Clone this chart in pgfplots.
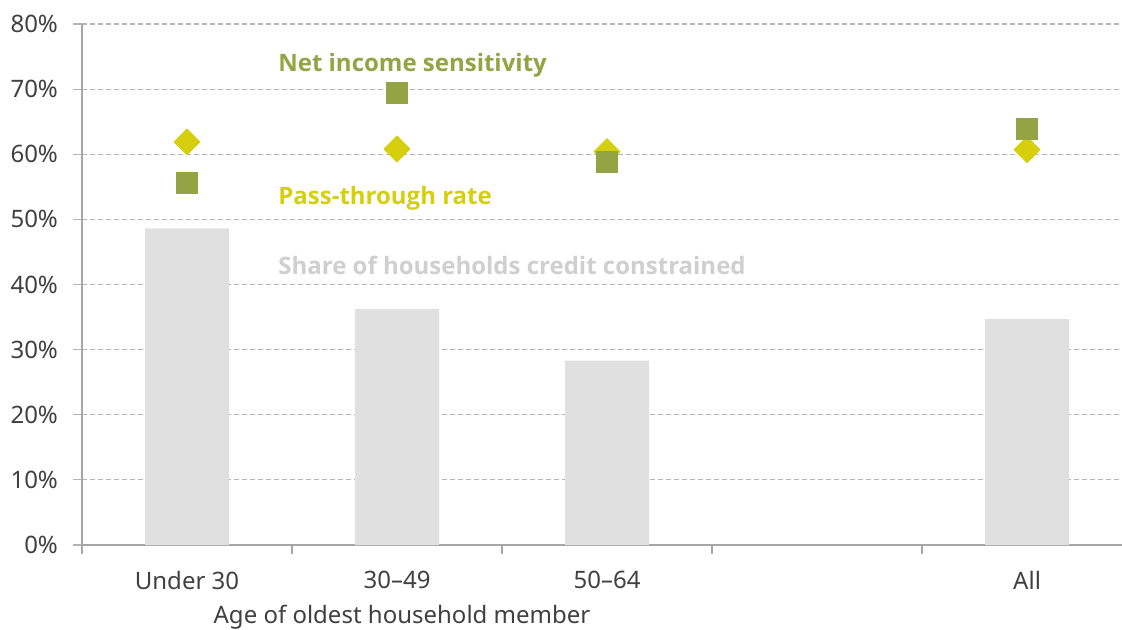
\documentclass[border=0pt]{standalone}
\usepackage{pgfplots}
\pgfplotsset{compat=1.18}
\usepackage{fontspec}
\setmainfont{Noto Sans}
\newfontfamily\lblfont{Open Sans}
\definecolor{barg}{HTML}{E0E0E0}
\definecolor{sqg}{HTML}{94A444}
\definecolor{dmy}{HTML}{D5CF0E}
\definecolor{lblg}{HTML}{CFCFCF}
\definecolor{txt}{HTML}{404040}
\definecolor{axg}{HTML}{A6A6A6}
\definecolor{grd}{HTML}{B3B3B3}
\begin{document}
\begin{tikzpicture}
\begin{axis}[name=ax,
  scale only axis, width=520pt, height=260.5pt,
  xmin=-0.5, xmax=4.452, ymin=0, ymax=80,
  axis lines=left, axis line style={-, axg, line width=0.8pt},
  font=\fontsize{12}{14}\selectfont,
  /pgf/number format/assume math mode=true,
  ytick={0,10,...,80},
  yticklabel={\pgfmathprintnumber{\tick}\%},
  yticklabel style={txt, xshift=-4pt},
  ymajorgrids, grid style={grd, dash pattern=on 2.5pt off 1.5pt, line width=0.6pt},
  ytick style={grd, line width=0.6pt},
  xtick={0,1,2,4},
  xticklabels={Under 30,30--49,50--64,All},
  xticklabel style={txt, yshift=-5pt},
  major x tick style={draw=none},
  minor xtick={-0.5,0.5,1.5,2.5,3.5},
  minor x tick style={axg, line width=0.8pt},
  tick align=outside, major tick length=4.5pt, minor tick length=4.5pt,
  xlabel={Age of oldest household member},
  xlabel style={txt, at={(rel axis cs:0.3077,0)}, anchor=north, yshift=-26.5pt},
  clip=false,
]
\addplot[ybar, bar width=42pt, fill=barg, draw=none, bar shift=0pt]
  coordinates {(0,48.6) (1,36.2) (2,28.3) (4,34.7)};
\addplot[only marks, color=dmy, mark=square*, mark size=4.6pt, mark options={rotate=45, fill=dmy, draw=dmy}]
  coordinates {(0,61.9) (1,60.8) (2,60.4) (4,60.7)};
\addplot[only marks, color=sqg, mark=square*, mark size=5.3pt, mark options={fill=sqg, draw=sqg}]
  coordinates {(0,55.6) (1,69.4) (2,58.8) (4,63.9)};
\node[anchor=west, text=sqg, font=\fontsize{12}{14}\selectfont\lblfont\bfseries, inner sep=0pt] at (axis cs:0.433,73.7) {Net income sensitivity};
\node[anchor=west, text=dmy, font=\fontsize{12}{14}\selectfont\lblfont\bfseries, inner sep=0pt] at (axis cs:0.433,53.3) {Pass-through rate};
\node[anchor=west, text=lblg, font=\fontsize{12}{14}\selectfont\lblfont\bfseries, inner sep=0pt] at (axis cs:0.433,43.0) {Share of households credit constrained};
\end{axis}
\pgfresetboundingbox
\path[use as bounding box] ([xshift=-41pt,yshift=-42.5pt]ax.south west) rectangle ([yshift=12pt]ax.north east);
\end{tikzpicture}
\end{document}
